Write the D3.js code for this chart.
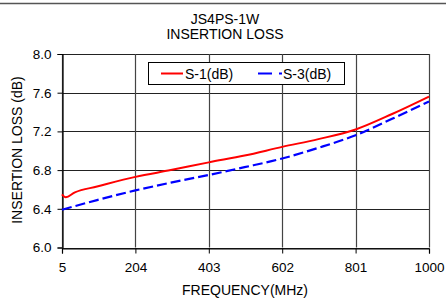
<!DOCTYPE html>
<html>
<head>
<meta charset="utf-8">
<script src="https://cdn.jsdelivr.net/npm/d3@7"></script>
<style>
  body { margin: 0; background: #fff; }
  text { font-family: "Liberation Sans", Arial, sans-serif; fill: #000; }
</style>
</head>
<body>
<div id="chart"></div>
<script>
// Data
const xTicks = [5, 204, 403, 602, 801, 1000];
const yTicks = [6.0, 6.4, 6.8, 7.2, 7.6, 8.0];

const s1Freq = [5, 15, 40, 100, 204, 300, 403, 500, 602, 700, 801, 900, 1000];
const s1Loss = [6.55, 6.52, 6.57, 6.63, 6.73, 6.80, 6.88, 6.95, 7.04, 7.12, 7.22, 7.38, 7.56];

const s3Freq = [5, 100, 204, 300, 403, 500, 602, 700, 801, 900, 1000];
const s3Loss = [6.39, 6.49, 6.59, 6.67, 6.75, 6.83, 6.92, 7.03, 7.16, 7.33, 7.51];

// Layout
const width = 446, height = 299;
const plotLeft = 62, plotRight = 429, plotTop = 54, plotBottom = 247.5;

const svg = d3.select("#chart").append("svg")
  .attr("width", width)
  .attr("height", height);

// top border
svg.append("line")
  .attr("x1", 0).attr("x2", width)
  .attr("y1", 3.5).attr("y2", 3.5)
  .attr("stroke", "#555").attr("stroke-width", 1.5);

const x = d3.scaleLinear().domain([5, 1000]).range([plotLeft, plotRight]);
const y = d3.scaleLinear().domain([6, 8]).range([plotBottom, plotTop]);

// Titles
svg.append("text").attr("x", 225).attr("y", 24)
  .attr("text-anchor", "middle").attr("font-size", "14px").text("JS4PS-1W");
svg.append("text").attr("x", 225).attr("y", 39)
  .attr("text-anchor", "middle").attr("font-size", "14px").text("INSERTION LOSS");

// Grid
svg.append("g").selectAll("line").data(yTicks).join("line")
  .attr("x1", plotLeft).attr("x2", plotRight)
  .attr("y1", d => Math.round(y(d)) + 0.5).attr("y2", d => Math.round(y(d)) + 0.5)
  .attr("stroke", "#222").attr("stroke-width", 1.2);

svg.append("g").selectAll("line").data(xTicks).join("line")
  .attr("x1", d => Math.round(x(d)) + 0.5).attr("x2", d => Math.round(x(d)) + 0.5)
  .attr("y1", plotTop).attr("y2", plotBottom)
  .attr("stroke", "#444").attr("stroke-width", 1.2);

// Axes
const xAxis = svg.append("g")
  .attr("transform", `translate(0,${Math.round(plotBottom) + 0.5})`)
  .call(d3.axisBottom(x).tickValues(xTicks).tickSize(5).tickPadding(9).tickFormat(d3.format("d")));
const yAxis = svg.append("g")
  .attr("transform", `translate(${plotLeft + 0.5},0)`)
  .call(d3.axisLeft(y).tickValues(yTicks).tickSize(5).tickPadding(6).tickFormat(d3.format(".1f")));

[xAxis, yAxis].forEach(a => {
  a.select(".domain").attr("stroke", "#000").attr("stroke-width", 1.2);
  a.selectAll(".tick line").attr("stroke", "#000");
  a.selectAll("text").attr("font-size", "13.5px").attr("font-family", "Liberation Sans, Arial, sans-serif");
});

// Axis titles
svg.append("text").attr("x", 245).attr("y", 295)
  .attr("text-anchor", "middle").attr("font-size", "14px").text("FREQUENCY(MHz)");
svg.append("text")
  .attr("transform", "translate(22,150) rotate(-90)")
  .attr("text-anchor", "middle").attr("font-size", "14px").text("INSERTION LOSS (dB)");

// Lines
const line = d3.line().x(d => x(d[0])).y(d => y(d[1])).curve(d3.curveMonotoneX);

svg.append("path")
  .datum(d3.zip(s3Freq, s3Loss))
  .attr("d", line)
  .attr("fill", "none").attr("stroke", "#0000ff")
  .attr("stroke-width", 2.2).attr("stroke-dasharray", "10,4");

svg.append("path")
  .datum(d3.zip(s1Freq, s1Loss))
  .attr("d", line)
  .attr("fill", "none").attr("stroke", "#ff0000")
  .attr("stroke-width", 2);

// Legend
const legend = svg.append("g");
legend.append("rect")
  .attr("x", 148.5).attr("y", 62.5).attr("width", 196).attr("height", 22)
  .attr("fill", "#fff").attr("stroke", "#000").attr("stroke-width", 1);
legend.append("line")
  .attr("x1", 161).attr("x2", 183).attr("y1", 73.5).attr("y2", 73.5)
  .attr("stroke", "#ff0000").attr("stroke-width", 2);
legend.append("text").attr("x", 185).attr("y", 78.5)
  .attr("font-size", "14px").text("S-1(dB)");
legend.append("line")
  .attr("x1", 258).attr("x2", 282).attr("y1", 73.5).attr("y2", 73.5)
  .attr("stroke", "#0000ff").attr("stroke-width", 2.2).attr("stroke-dasharray", "14,7");
legend.append("text").attr("x", 283).attr("y", 78.5)
  .attr("font-size", "14px").text("S-3(dB)");
</script>
</body>
</html>
